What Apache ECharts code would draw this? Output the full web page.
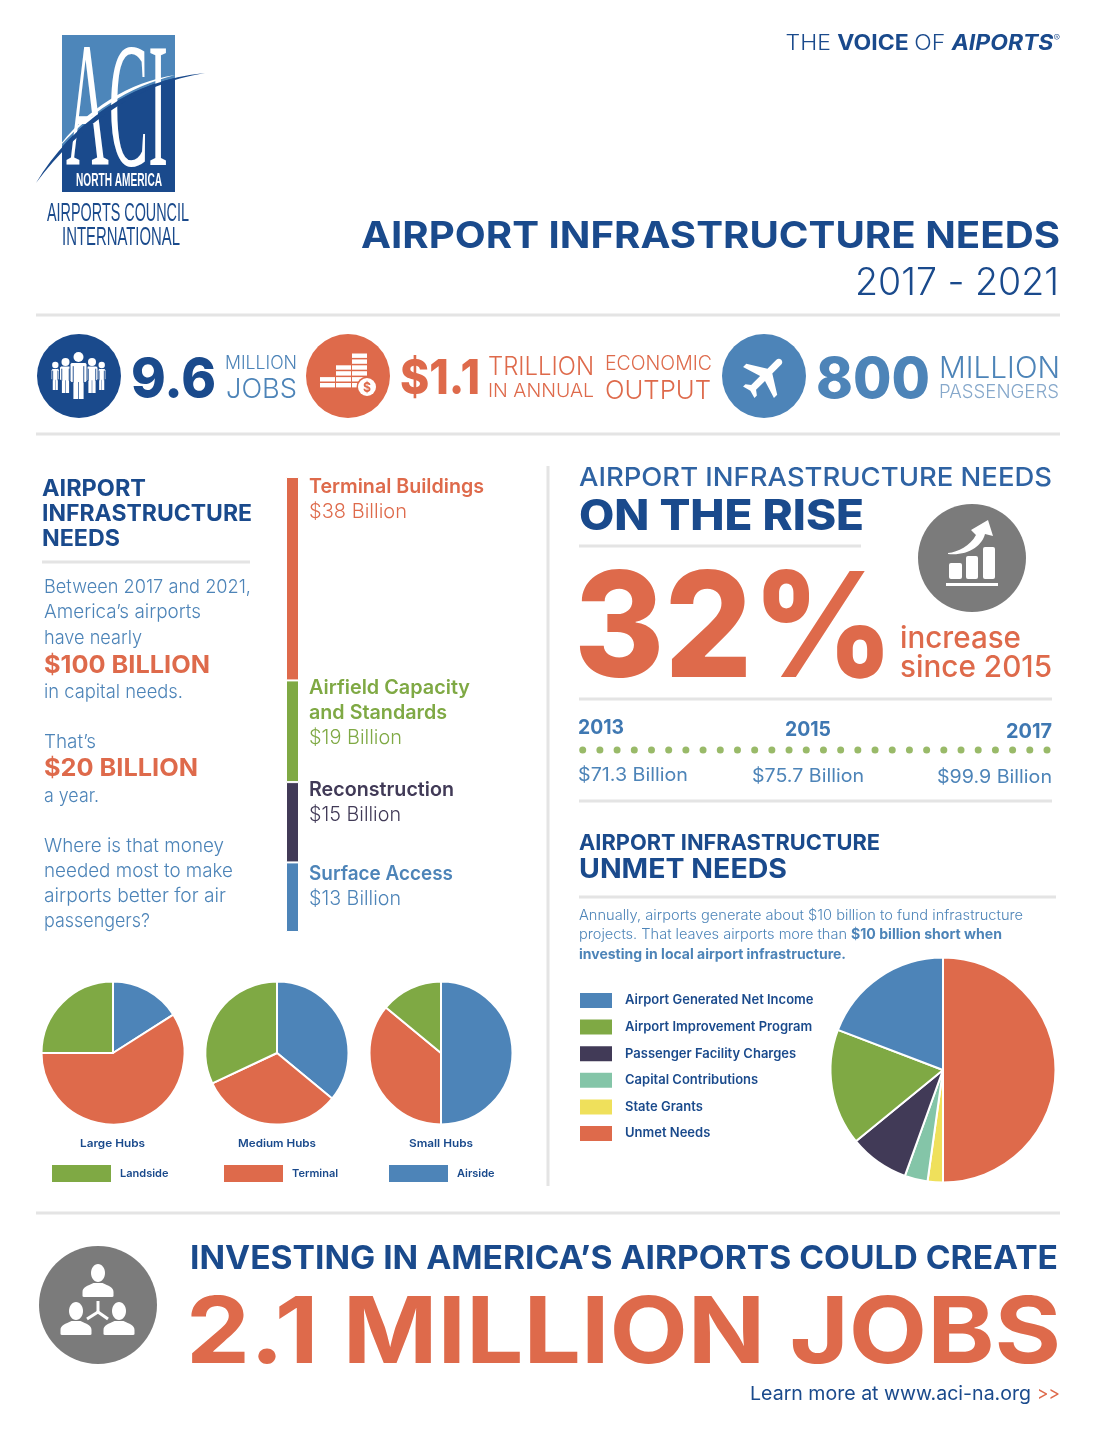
<!DOCTYPE html>
<html>
<head>
<meta charset="utf-8">
<title>Airport Infrastructure Needs</title>
<script src="https://cdn.jsdelivr.net/npm/echarts@6/dist/echarts.min.js"></script>
<style>
html,body{margin:0;padding:0;background:#fff;}
#content{width:1100px;height:1432px;}
</style>
</head>
<body>
<div id="content"></div>
<script>
// data
var hubSegments = ['Airside', 'Terminal', 'Landside'];
var largeHubs = [16, 59, 25];
var mediumHubs = [36, 32, 32];
var smallHubs = [50, 36, 14];
var hubTitles = ['Large Hubs', 'Medium Hubs', 'Small Hubs'];

var needNames = ['Terminal Buildings', 'Airfield Capacity and Standards', 'Reconstruction', 'Surface Access'];
var needValues = [38, 19, 15, 13];

var unmetNames = ['Unmet Needs', 'State Grants', 'Capital Contributions', 'Passenger Facility Charges', 'Airport Improvement Program', 'Airport Generated Net Income'];
var unmetValues = [50, 2.2, 3.3, 8.6, 16.7, 19.2];
var unmetLegend = ['Airport Generated Net Income', 'Airport Improvement Program', 'Passenger Facility Charges', 'Capital Contributions', 'State Grants', 'Unmet Needs'];

var riseYears = ['2013', '2015', '2017'];
var riseBillions = [71.3, 75.7, 99.9];
var riseDots = [0, 1, 2, 3, 4, 5, 6, 7, 8, 9, 10, 11, 12, 13, 14, 15, 16, 17, 18, 19, 20, 21, 22, 23, 24, 25, 26, 27];

var NAVY = '#1a4a8c', BLUE = '#4d84b8', ORANGE = '#de6a4b', GREEN = '#7fa944';
var DARK = '#413a57', TEAL = '#84c5a8', YELLOW = '#efe05b', GRAY = '#7b7b7b', RULE = '#e4e4e4';
var FONT = 'Inter';

var hubColors = [BLUE, ORANGE, GREEN];
var unmetColors = [ORANGE, YELLOW, TEAL, DARK, GREEN, BLUE];
var needColors = [ORANGE, GREEN, DARK, BLUE];

var ctx = document.createElement('canvas').getContext('2d');
var els = [];
var shapeCount = 0;

// text squeezed or stretched to run from x0 to x1, y is the middle of the capitals
function T(text, x0, x1, y, size, weight, color, family) {
    var font = weight + ' ' + size + 'px "' + (family || FONT) + '"';
    ctx.font = font;
    els.push({
        type: 'text', x: x0, y: y + (family ? 0 : size * 0.07), scaleX: (x1 - x0) / ctx.measureText(text).width,
        style: {text: text, font: font, fill: color, textAlign: 'left', textVerticalAlign: 'middle'}
    });
}
function rule(x0, x1, y) {
    els.push({type: 'line', shape: {x1: x0, y1: y, x2: x1, y2: y}, style: {stroke: RULE, lineWidth: 3}});
}
function disc(x, y, r, color) {
    els.push({type: 'circle', shape: {cx: x, cy: y, r: r}, style: {fill: color}});
}
function box(x, y, w, h, color, r) {
    els.push({type: 'rect', shape: {x: x, y: y, width: w, height: h, r: r || 0}, style: {fill: color}});
}
// graphic has no plain path type, so each svg path gets its own shape
function path(d, color, extra) {
    var name = 'svgShape' + (shapeCount++);
    echarts.graphic.registerShape(name, echarts.graphic.extendPath(d, {}));
    els.push(Object.assign({type: name, style: {fill: color}}, extra || {}));
}
// one figure of the crowd icon
function person(cx, headY, r, top, bottom, w) {
    var h = bottom - top;
    var st = {fill: '#fff', stroke: NAVY, lineWidth: 1};
    els.push({type: 'rect', shape: {x: cx - w / 2, y: top, width: w, height: h * 0.55, r: 2}, style: st});
    els.push({type: 'circle', shape: {cx: cx, cy: headY, r: r}, style: {fill: '#fff'}});
    box(cx - w * 0.3, top + h * 0.4, w * 0.28, h * 0.6, '#fff');
    box(cx + w * 0.02, top + h * 0.4, w * 0.28, h * 0.6, '#fff');
    els.push({type: 'line', shape: {x1: cx - w * 0.31, y1: top + h * 0.1, x2: cx - w * 0.31, y2: top + h * 0.55}, style: {stroke: NAVY, lineWidth: 0.9}});
    els.push({type: 'line', shape: {x1: cx + w * 0.31, y1: top + h * 0.1, x2: cx + w * 0.31, y2: top + h * 0.55}, style: {stroke: NAVY, lineWidth: 0.9}});
}
function bust(cx, headY) {
    els.push({type: 'ellipse', shape: {cx: cx, cy: headY, rx: 7, ry: 9}, style: {fill: '#fff'}});
    path('M' + (cx - 15.5) + ' ' + (headY + 23) + 'v-4c0-5 5-6 11-9h9c6 3 11 4 11 9v4c0 .6-1 1-2 1h-27c-1 0-2-.4-2-1z', '#fff');
}

// logo
box(62, 35, 113, 157, '#4d86ba');
path('M62 147C92 113 130 88 175 78V192H62Z', NAVY);
T('ACI', 66, 168, 118, 178, 400, '#fff', 'Liberation Serif');
path('M36 183C72 124 130 80 205 73C136 84 80 125 36 183Z', NAVY);
path('M55 152C88 113 128 87 175 75C130 82 86 108 55 152Z', '#fff');
T('NORTH AMERICA', 76, 162, 181, 18, 700, '#fff', 'Liberation Sans');
T('AIRPORTS COUNCIL', 47, 189, 214, 26, 400, NAVY, 'Liberation Sans');
T('INTERNATIONAL', 62, 180, 238, 26, 400, NAVY, 'Liberation Sans');

// header
els.push({
    type: 'text', x: 1060, y: 44, scaleX: 1.095,
    style: {
        text: '{l|THE }{b|VOICE }{l|OF }{i|AIPORTS}{r|®}', textAlign: 'right', textVerticalAlign: 'middle',
        rich: {
            l: {font: '300 21px ' + FONT, fill: NAVY},
            b: {font: '700 21px ' + FONT, fill: NAVY},
            i: {font: 'italic 700 21px ' + FONT, fill: NAVY},
            r: {font: '300 9px ' + FONT, fill: NAVY, verticalAlign: 'top'}
        }
    }
});
T('AIRPORT INFRASTRUCTURE NEEDS', 361, 1060, 234, 37, 700, NAVY);
T('2017 - 2021', 855, 1059, 281, 38, 300, NAVY);

// stats band
rule(36, 1060, 315);
rule(36, 1060, 434);
disc(79, 376, 42, NAVY);
person(55.3, 365, 3.2, 368.5, 390, 8.5);
person(101.7, 365, 3.2, 368.5, 390, 8.5);
person(65.5, 362, 4, 366, 393, 12);
person(92, 362, 4, 366, 393, 12);
person(78.5, 357, 5, 362.5, 399, 17);
T('9.6', 131, 216, 377, 54, 800, NAVY);
T('MILLION', 225, 297, 362, 18, 300, BLUE);
T('JOBS', 226, 297, 388, 27, 300, BLUE);

disc(348, 376, 42, ORANGE);
[[320, 2], [336, 4], [352, 6]].forEach(function (s) {
    for (var i = 0; i < s[1]; i++) {
        box(s[0], 383 - i * 5.9, 15, 4.4, '#fff');
    }
});
disc(367, 387, 10.5, ORANGE);
disc(367, 387, 9, '#fff');
T('$', 363, 371, 387, 13, 700, ORANGE);
T('$1.1', 400, 480, 376, 48, 800, ORANGE);
T('TRILLION', 488, 594, 366, 25, 300, ORANGE);
T('IN ANNUAL', 488, 594, 390, 19, 300, ORANGE);
T('ECONOMIC', 605, 712, 363, 20, 300, ORANGE);
T('OUTPUT', 605, 711, 389, 26, 300, ORANGE);

disc(764, 376, 42, BLUE);
path('M21 16v-2l-8-5V3.5c0-.83-.67-1.5-1.5-1.5S10 2.67 10 3.5V9l-8 5v2l8-2.5V19l-2 1.5V22l3.5-1 3.5 1v-1.5L13 19v-5.5l8 2.5z', '#fff', {
    x: 765 - 11.5, y: 376 - 12, originX: 11.5, originY: 12, rotation: -Math.PI / 4, scaleX: 2.3, scaleY: 2.3
});
T('800', 816, 930, 377, 56, 800, BLUE);
T('MILLION', 939, 1060, 367, 30, 300, BLUE);
T('PASSENGERS', 939, 1059, 391, 18, 300, '#86a8cb');

// left column
T('AIRPORT', 42, 146, 487, 23, 700, NAVY);
T('INFRASTRUCTURE', 42, 252, 512, 23, 700, NAVY);
T('NEEDS', 42, 120, 537, 23, 700, NAVY);
rule(42, 250, 562);
T('Between 2017 and 2021,', 44, 251, 586, 19, 300, BLUE);
T('America’s airports', 44, 201, 611, 19, 300, BLUE);
T('have nearly', 44, 142, 637, 19, 300, BLUE);
T('$100 BILLION', 44, 210, 664, 24, 700, ORANGE);
T('in capital needs.', 44, 183, 691, 19, 300, BLUE);
T('That’s', 44, 96, 741, 19, 300, BLUE);
T('$20 BILLION', 44, 198, 767, 24, 700, ORANGE);
T('a year.', 44, 99, 795, 19, 300, BLUE);
T('Where is that money', 44, 224, 845, 19, 300, BLUE);
T('needed most to make', 44, 233, 870, 19, 300, BLUE);
T('airports better for air', 44, 226, 895, 19, 300, BLUE);
T('passengers?', 44, 150, 920, 19, 300, BLUE);

// labels next to the stacked bar
T(needNames[0], 309, 484, 486, 20, 600, ORANGE);
T('$' + needValues[0] + ' Billion', 309, 407, 511, 20, 300, ORANGE);
T('Airfield Capacity', 309, 470, 687, 20, 600, GREEN);
T('and Standards', 309, 447, 712, 20, 600, GREEN);
T('$' + needValues[1] + ' Billion', 309, 402, 737, 20, 300, GREEN);
T(needNames[2], 309, 454, 789, 20, 600, DARK);
T('$' + needValues[2] + ' Billion', 309, 401, 814, 20, 300, DARK);
T(needNames[3], 309, 453, 873, 20, 600, BLUE);
T('$' + needValues[3] + ' Billion', 309, 401, 898, 20, 300, BLUE);

// divider
els.push({type: 'line', shape: {x1: 548, y1: 466, x2: 548, y2: 1186}, style: {stroke: RULE, lineWidth: 3}});

// on the rise
T('AIRPORT INFRASTRUCTURE NEEDS', 579, 1052, 476, 26, 500, '#2f63a3');
T('ON THE RISE', 579, 864, 514, 42, 800, NAVY);
rule(579, 861, 546);
disc(972, 558, 54, GRAY);
box(949, 563, 13, 16, '#fff', 2);
box(966, 556, 12, 23, '#fff', 2);
box(983, 547, 12, 32, '#fff', 2);
box(946, 583, 52, 3, '#fff');
path('M948 553C958 552 970 546 976 535L971 530L988 520L993 536L985 534C982 546 968 556 948 554Z', '#fff');
T('32%', 574, 894, 623, 146, 800, ORANGE);
T('increase', 900, 1021, 637, 30, 500, ORANGE);
T('since 2015', 900, 1052, 666, 30, 500, ORANGE);
rule(579, 1052, 699);
rule(579, 1052, 801);
T(riseYears[0], 578, 624, 727, 20, 700, '#3f78b2');
T(riseYears[1], 785, 831, 729, 20, 700, '#3f78b2');
T(riseYears[2], 1006, 1052, 731, 20, 700, '#3f78b2');
T('$' + riseBillions[0] + ' Billion', 578, 688, 774, 18, 400, BLUE);
T('$' + riseBillions[1] + ' Billion', 752, 864, 775, 18, 400, BLUE);
T('$' + riseBillions[2] + ' Billion', 937, 1052, 776, 18, 400, BLUE);

// unmet needs
T('AIRPORT INFRASTRUCTURE', 579, 880, 842, 22, 700, NAVY);
T('UNMET NEEDS', 579, 787, 868, 27, 700, NAVY);
rule(579, 1056, 897);
T('Annually, airports generate about $10 billion to fund infrastructure', 579, 1023, 915, 14, 300, BLUE);
T('projects. That leaves airports more than', 579, 847, 934, 14, 300, BLUE);
T('$10 billion short when', 851, 1002, 934, 14, 700, BLUE);
T('investing in local airport infrastructure.', 579, 846, 954, 14, 700, BLUE);

// hub pie captions
T(hubTitles[0], 80, 145, 1143, 11, 600, NAVY);
T(hubTitles[1], 238, 316, 1143, 11, 600, NAVY);
T(hubTitles[2], 409, 473, 1143, 11, 600, NAVY);

// footer
rule(36, 1060, 1213);
disc(98, 1305, 59, GRAY);
els.push({type: 'line', shape: {x1: 98, y1: 1301, x2: 98, y2: 1312}, style: {stroke: '#fff', lineWidth: 3}});
els.push({type: 'line', shape: {x1: 98, y1: 1312, x2: 87, y2: 1319}, style: {stroke: '#fff', lineWidth: 3}});
els.push({type: 'line', shape: {x1: 98, y1: 1312, x2: 108, y2: 1319}, style: {stroke: '#fff', lineWidth: 3}});
bust(98, 1273);
bust(76, 1311);
bust(119, 1311);
T('INVESTING IN AMERICA’S AIRPORTS COULD CREATE', 190, 1058, 1257, 33, 700, NAVY);
T('2.1 MILLION JOBS', 186, 1061, 1329, 92, 700, ORANGE);
T('Learn more at www.aci-na.org', 750, 1031, 1393, 19, 400, NAVY);
T('>>', 1037, 1060, 1393, 19, 400, ORANGE);

function hubPie(name, values, cx) {
    return {
        name: name, type: 'pie', center: [cx, 1053], radius: [0, 71.5], silent: true,
        label: {show: false}, labelLine: {show: false},
        itemStyle: {borderColor: '#fff', borderWidth: 2},
        data: hubSegments.map(function (s, i) {
            return {name: s, value: values[i], itemStyle: {color: hubColors[i]}};
        })
    };
}
function hubLegend(name, left) {
    return {
        data: [name], left: left, top: 1163, padding: 0, icon: 'rect', selectedMode: false,
        itemWidth: 61, itemHeight: 19,
        textStyle: {fontFamily: FONT, fontSize: 11, fontWeight: 600, color: NAVY, padding: [0, 0, 0, 3]}
    };
}

var myChart = echarts.init(document.getElementById('content'));
myChart.setOption({
    animation: false,
    backgroundColor: '#fff',
    grid: [
        {left: 280, top: 477, width: 25, height: 455},
        {left: 582.7, top: 740, width: 464.3, height: 20}
    ],
    xAxis: [
        {gridIndex: 0, type: 'category', data: ['needs'], show: false},
        {gridIndex: 1, type: 'value', min: 0, max: 27, show: false}
    ],
    yAxis: [
        {gridIndex: 0, type: 'value', inverse: true, min: 0, max: 85, show: false},
        {gridIndex: 1, type: 'value', min: -1, max: 1, show: false}
    ],
    legend: [
        hubLegend('Landside', 50),
        hubLegend('Terminal', 222),
        hubLegend('Airside', 387),
        {
            data: unmetLegend, left: 578, top: 991, padding: 0, orient: 'vertical', icon: 'rect', selectedMode: false,
            itemWidth: 34, itemHeight: 17, itemGap: 7.6,
            textStyle: {fontFamily: FONT, fontSize: 13, fontWeight: 600, color: NAVY, padding: [0, 0, 0, 7]}
        }
    ],
    series: needNames.map(function (n, i) {
        return {
            name: n, type: 'bar', stack: 'needs', xAxisIndex: 0, yAxisIndex: 0, barWidth: 13, silent: true,
            itemStyle: {color: needColors[i], borderColor: '#fff', borderWidth: 1},
            data: [needValues[i]]
        };
    }).concat([
        {
            name: 'rise', type: 'scatter', xAxisIndex: 1, yAxisIndex: 1, symbolSize: 7, silent: true,
            itemStyle: {color: GREEN},
            data: riseDots.map(function (d) { return [d, 0]; })
        },
        hubPie(hubTitles[0], largeHubs, 113),
        hubPie(hubTitles[1], mediumHubs, 277),
        hubPie(hubTitles[2], smallHubs, 441),
        {
            name: 'Unmet', type: 'pie', center: [943, 1070], radius: [0, 112.5], silent: true,
            label: {show: false}, labelLine: {show: false},
            itemStyle: {borderColor: '#fff', borderWidth: 2},
            data: unmetNames.map(function (n, i) {
                return {name: n, value: unmetValues[i], itemStyle: {color: unmetColors[i]}};
            })
        }
    ]),
    graphic: {elements: els}
});
</script>
</body>
</html>
